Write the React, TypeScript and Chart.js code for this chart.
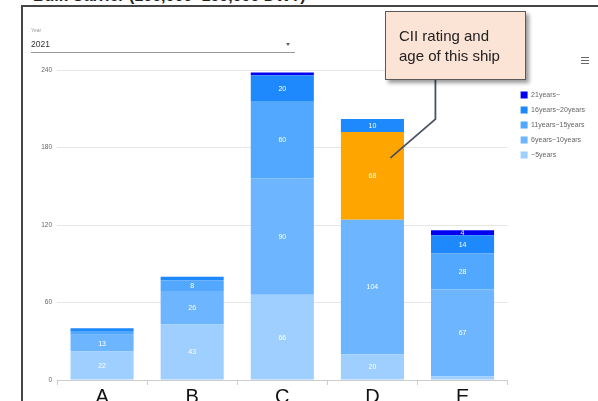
import React, { useEffect, useRef } from 'react';
import { Chart, registerables } from 'chart.js';

Chart.register(...registerables);

// ---- data ----
const categories = ['A', 'B', 'C', 'D', 'E'];
const upTo5Years = [22, 43, 66, 20, 3];
const years6to10 = [13, 26, 90, 104, 67];
const years11to15 = [3, 8, 60, 68, 28];
const years16to20 = [2, 3, 20, 10, 14];
const years21plus = [0, 0, 2, 0, 4];
const yTicks = [0, 60, 120, 180, 240];
const seriesLabels = ['~5years', '6years~10years', '11years~15years', '16years~20years', '21years~'];
const highlightIndex = 3; // ship's own bar (D)
const calloutBendValue = 202;
const calloutTipValue = 172;

const seriesColors = ['#9ecfff', '#6db5ff', '#52a7ff', '#1e88fd', '#0000f0'];
const highlightColor = '#ffa500';

const FONT = 'Arial, "Liberation Sans", sans-serif';

const valueLabels = {
  id: 'valueLabels',
  afterDatasetsDraw(chart: any) {
    const ctx = chart.ctx;
    ctx.save();
    ctx.font = `7px ${FONT}`;
    ctx.fillStyle = '#ffffff';
    ctx.textAlign = 'center';
    ctx.textBaseline = 'middle';
    chart.data.datasets.forEach((ds: any, di: number) => {
      const meta = chart.getDatasetMeta(di);
      meta.data.forEach((el: any, i: number) => {
        const v = ds.data[i];
        if (v >= 4) {
          const p = el.getProps(['x', 'y', 'base'], true);
          ctx.fillText(String(v), p.x, (p.y + p.base) / 2 + 0.5);
        }
      });
    });
    ctx.restore();
  },
};

const calloutLine = {
  id: 'calloutLine',
  afterDraw(chart: any) {
    const ctx = chart.ctx;
    const xs = chart.scales.x;
    const ys = chart.scales.y;
    const xD = xs.getPixelForValue(highlightIndex);
    const bendX = xD + 63;
    const bendY = ys.getPixelForValue(calloutBendValue);
    const tipX = xD + 18;
    const tipY = ys.getPixelForValue(calloutTipValue);
    ctx.save();
    ctx.strokeStyle = '#4a5262';
    ctx.lineWidth = 1.8;
    ctx.beginPath();
    ctx.moveTo(bendX, 80);
    ctx.lineTo(bendX, bendY);
    ctx.lineTo(tipX, tipY);
    ctx.stroke();
    ctx.restore();
  },
};

export default function App() {
  const ref = useRef<HTMLCanvasElement>(null);

  useEffect(() => {
    const seriesData = [upTo5Years, years6to10, years11to15, years16to20, years21plus];
    const datasets = seriesData.map((d, si) => ({
      label: seriesLabels[si],
      data: d,
      backgroundColor: (c: any) =>
        si === 2 && c.dataIndex === highlightIndex ? highlightColor : seriesColors[si],
      borderWidth: 0,
      barPercentage: 0.7,
      categoryPercentage: 1,
    }));

    const chart = new Chart(ref.current!, {
      type: 'bar',
      data: { labels: categories, datasets },
      options: {
        responsive: false,
        animation: false,
        devicePixelRatio: 1,
        layout: { padding: { top: 70, left: 22, right: 3, bottom: 0 } },
        plugins: {
          tooltip: { enabled: false },
          legend: {
            position: 'right',
            align: 'start',
            title: { display: true, text: '', font: { size: 1 }, padding: { top: 12.3, bottom: 0 } },
            labels: {
              boxWidth: 7,
              boxHeight: 7,
              padding: 8,
              color: '#333',
              font: { size: 7, family: FONT },
              generateLabels: () =>
                seriesLabels
                  .map((t, i) => ({
                    text: t,
                    fillStyle: seriesColors[i],
                    strokeStyle: seriesColors[i],
                    lineWidth: 0,
                    hidden: false,
                    datasetIndex: i,
                  }))
                  .reverse(),
            },
          },
        },
        scales: {
          x: {
            stacked: true,
            grid: { display: true, drawOnChartArea: false, drawTicks: true, tickLength: 5, color: '#cccccc', offset: true },
            border: { display: true, color: '#cccccc' },
            ticks: { color: '#111', font: { size: 20, family: FONT }, padding: 0, autoSkip: false, maxRotation: 0 },
            afterFit: (s: any) => {
              s.height = 21;
            },
          },
          y: {
            stacked: true,
            min: 0,
            max: 240,
            afterBuildTicks: (s: any) => {
              s.ticks = yTicks.map((v) => ({ value: v }));
            },
            grid: { color: '#e6e6e6', drawTicks: false },
            border: { display: false },
            ticks: { color: '#666', font: { size: 6.5, family: FONT }, padding: 5 },
            afterFit: (s: any) => {
              s.width = 35;
            },
          },
          y2: {
            position: 'right',
            display: true,
            grid: { display: false },
            border: { display: false },
            ticks: { display: false },
            afterFit: (s: any) => {
              s.width = 5;
            },
          },
        },
      } as any,
      plugins: [valueLabels, calloutLine],
    });
    return () => chart.destroy();
  }, []);

  return (
    <div
      style={{
        position: 'absolute',
        left: 0,
        top: 0,
        width: 598,
        height: 401,
        overflow: 'hidden',
        background: '#fff',
        fontFamily: FONT,
      }}
    >
      <div
        style={{
          position: 'absolute',
          left: 33,
          top: -13,
          fontSize: 16,
          lineHeight: '18px',
          fontWeight: 'bold',
          color: '#222',
          whiteSpace: 'nowrap',
        }}
      >
        Bulk Carrier (100,000~199,999 DWT)
      </div>
      <div
        style={{
          position: 'absolute',
          left: 21,
          top: 5,
          width: 620,
          height: 420,
          border: '2px solid #444',
          boxSizing: 'border-box',
          background: '#fff',
        }}
      />
      <canvas
        ref={ref}
        width={598}
        height={401}
        style={{ position: 'absolute', left: 0, top: 0, width: 598, height: 401 }}
      />
      <div style={{ position: 'absolute', left: 31, top: 27, fontSize: 5, color: '#999' }}>Year</div>
      <div style={{ position: 'absolute', left: 31, top: 39, fontSize: 8.5, color: '#333' }}>2021</div>
      <div style={{ position: 'absolute', left: 31, top: 52, width: 264, height: 1, background: '#999' }} />
      <div
        style={{
          position: 'absolute',
          left: 286,
          top: 43,
          width: 0,
          height: 0,
          borderLeft: '2.5px solid transparent',
          borderRight: '2.5px solid transparent',
          borderTop: '3px solid #666',
        }}
      />
      <div
        style={{
          position: 'absolute',
          left: 385,
          top: 11,
          width: 141,
          height: 69,
          boxSizing: 'border-box',
          background: '#fbe4d5',
          border: '1px solid #5a5a5a',
          boxShadow: '3px 3px 4px rgba(0,0,0,0.4)',
          padding: '14px 0 0 13px',
          fontSize: 15,
          lineHeight: '20px',
          color: '#222',
          whiteSpace: 'nowrap',
        }}
      >
        CII rating and
        <br />
        age of this ship
      </div>
      {[57, 60, 63].map((t) => (
        <div key={t} style={{ position: 'absolute', left: 581, top: t, width: 8, height: 1, background: '#666' }} />
      ))}
    </div>
  );
}
